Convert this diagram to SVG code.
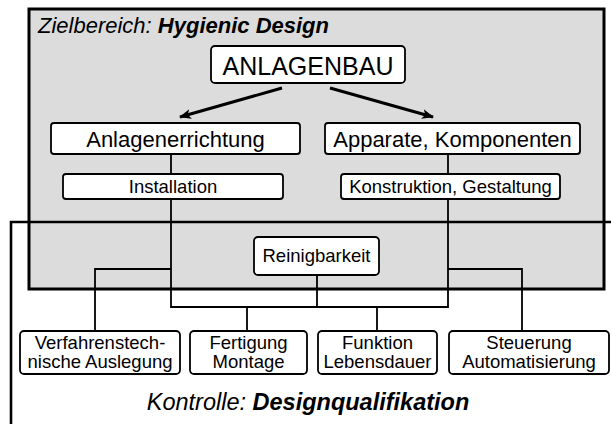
<svg xmlns="http://www.w3.org/2000/svg" width="611" height="424" viewBox="0 0 611 424">
<style>
.box{fill:#fff;stroke:#000;stroke-width:1.8}
.t{font-family:"Liberation Sans",Arial,sans-serif;text-anchor:middle;fill:#000}
.c{fill:none;stroke:#000;stroke-width:1.8}
</style>
<defs>
<marker id="ah" viewBox="0 0 12 10" refX="11" refY="5" markerWidth="12" markerHeight="10" markerUnits="userSpaceOnUse" orient="auto">
<path d="M0,0 L12,5 L0,10 L3,5 Z" fill="#000"/>
</marker>
</defs>
<g id="zielbereich">
<rect x="29" y="9" width="575" height="280" fill="#dcdcdc"/>
</g>
<g id="kontrolle">
<path d="M11,424 V222 H611" fill="none" stroke="#000" stroke-width="2.6"/>
<text x="308" y="410" class="t" font-size="23.5" font-style="italic">Kontrolle: <tspan font-weight="bold">Designqualifikation</tspan></text>
</g>
<rect x="29" y="9" width="575" height="280" fill="none" stroke="#000" stroke-width="3"/>
<text x="38" y="33" font-family="Liberation Sans,Arial,sans-serif" font-size="22" font-style="italic">Zielbereich: <tspan font-weight="bold">Hygienic Design</tspan></text>
<g id="connectors">
<line x1="282" y1="88" x2="180" y2="117" stroke="#000" stroke-width="3" marker-end="url(#ah)"/>
<line x1="330" y1="88" x2="433" y2="117" stroke="#000" stroke-width="3" marker-end="url(#ah)"/>
<path class="c" d="M171,154 V174 M171,199 V307 H448 V199 M448,174 V154"/>
<path class="c" d="M317,275 V307 M247,307 V331 M377,307 V331"/>
<path class="c" d="M171,269 H95 V331 M448,269 H522 V331"/>
</g>
<g id="anlagenbau">
<rect class="box" x="211" y="46" width="194" height="37" rx="4"/>
<text class="t" x="308" y="75" font-size="25">ANLAGENBAU</text>
</g>
<g id="anlagenerrichtung">
<rect class="box" x="51" y="123" width="249" height="31" rx="3"/>
<text class="t" x="175.5" y="147" font-size="22">Anlagenerrichtung</text>
</g>
<g id="apparate">
<rect class="box" x="325" y="123" width="255" height="31" rx="3"/>
<text class="t" x="452.5" y="147" font-size="22">Apparate, Komponenten</text>
</g>
<g id="installation">
<rect class="box" x="63" y="174" width="220" height="25" rx="3"/>
<text class="t" x="173" y="193" font-size="18.5">Installation</text>
</g>
<g id="konstruktion">
<rect class="box" x="341" y="174" width="219" height="25" rx="3"/>
<text class="t" x="450.5" y="193" font-size="18.5">Konstruktion, Gestaltung</text>
</g>
<g id="reinigbarkeit">
<rect class="box" x="254" y="237" width="125" height="38" rx="4"/>
<text class="t" x="316.5" y="262" font-size="18.5">Reinigbarkeit</text>
</g>
<g id="verfahren">
<rect class="box" x="20" y="331" width="160" height="43" rx="4"/>
<text class="t" x="100" y="349" font-size="18.5">Verfahrenstech-</text>
<text class="t" x="100" y="368" font-size="18.5">nische Auslegung</text>
</g>
<g id="fertigung">
<rect class="box" x="190" y="331" width="117" height="43" rx="4"/>
<text class="t" x="248.5" y="349" font-size="18.5">Fertigung</text>
<text class="t" x="248.5" y="368" font-size="18.5">Montage</text>
</g>
<g id="funktion">
<rect class="box" x="318" y="331" width="119" height="43" rx="4"/>
<text class="t" x="377.5" y="349" font-size="18.5">Funktion</text>
<text class="t" x="377.5" y="368" font-size="18.5">Lebensdauer</text>
</g>
<g id="steuerung">
<rect class="box" x="449" y="331" width="160" height="43" rx="4"/>
<text class="t" x="529" y="349" font-size="18.5">Steuerung</text>
<text class="t" x="529" y="368" font-size="18.5">Automatisierung</text>
</g>
</svg>
